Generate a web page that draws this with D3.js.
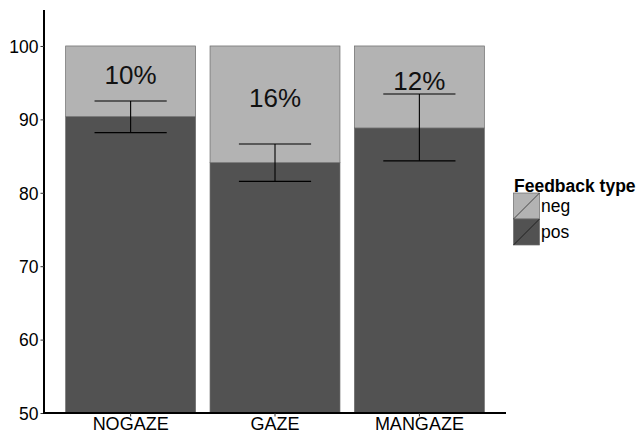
<!DOCTYPE html>
<html><head><meta charset="utf-8">
<script src="https://cdn.jsdelivr.net/npm/d3@7"></script>
<style>body{margin:0;background:#fff}svg{display:block}text{font-family:"Liberation Sans",Arial,sans-serif}</style>
</head><body><svg id="c" width="639" height="433"></svg>
<script>
const categories = ["NOGAZE", "GAZE", "MANGAZE"];
const posValues = [90.37, 84.1, 88.83];
const negValues = [9.63, 15.9, 11.17];
const errLow = [88.2, 81.55, 84.35];
const errHigh = [92.5, 86.65, 93.45];
const pctLabels = ["10%", "16%", "12%"];
const yTicks = [50, 60, 70, 80, 90, 100];
const legendLabels = ["neg", "pos"];
const colors = {neg: "#b3b3b3", pos: "#525252"};

const svg = d3.select("#c");
const mLeft = 44, mRight = 506, mTop = 10, mBottom = 413;
const x = d3.scaleBand().domain(categories).range([mLeft, mRight]).paddingInner(0.1).paddingOuter(0.15);
const y = d3.scaleLinear().domain([50, 104.9]).range([mBottom, mTop]);

// bars
const g = svg.append("g");
categories.forEach((c, i) => {
  const x0 = x(c), w = x.bandwidth();
  g.append("rect").attr("x", x0).attr("width", w)
    .attr("y", y(posValues[i])).attr("height", y(50) - y(posValues[i]))
    .attr("fill", colors.pos).attr("stroke", "#6a6a6a").attr("stroke-width", 0.7);
  g.append("rect").attr("x", x0).attr("width", w)
    .attr("y", y(posValues[i] + negValues[i])).attr("height", y(posValues[i]) - y(posValues[i] + negValues[i]))
    .attr("fill", colors.neg).attr("stroke", "#6a6a6a").attr("stroke-width", 0.7);
  const cx = x0 + w / 2, ew = x.step() * 0.25;
  g.append("line").attr("x1", cx).attr("x2", cx).attr("y1", y(errLow[i])).attr("y2", y(errHigh[i])).attr("stroke", "#000").attr("stroke-width", 1.1);
  [errLow[i], errHigh[i]].forEach(v => g.append("line").attr("x1", cx - ew).attr("x2", cx + ew).attr("y1", y(v)).attr("y2", y(v)).attr("stroke", "#000").attr("stroke-width", 1.1));
  const mid = posValues[i] + negValues[i] / 2;
  g.append("text").attr("x", cx).attr("y", y(mid) + 3).attr("text-anchor", "middle")
    .attr("font-size", 26).attr("fill", "#111").text(pctLabels[i]);
});

// axes
const ya = svg.append("g").attr("transform", `translate(${mLeft},0)`)
  .call(d3.axisLeft(y).tickValues(yTicks).tickSize(3.5).tickPadding(2).tickSizeOuter(0));
ya.select(".domain").attr("stroke", "#000").attr("stroke-width", 2).attr("d", `M0,${mTop}V${mBottom + 1}`);
ya.selectAll(".tick line").attr("stroke", "#333").attr("stroke-width", 1);
ya.selectAll(".tick text").attr("font-size", 17.5).attr("fill", "#000").attr("font-family", '"Liberation Sans",Arial,sans-serif').attr("dy", "0.36em");

const xa = svg.append("g").attr("transform", `translate(0,${mBottom})`)
  .call(d3.axisBottom(x).tickSize(3.5).tickPadding(1).tickSizeOuter(0));
xa.select(".domain").attr("stroke", "#000").attr("stroke-width", 2).attr("d", `M${mLeft - 1},0H${mRight}`);
xa.selectAll(".tick line").attr("stroke", "#333").attr("stroke-width", 1);
xa.selectAll(".tick text").attr("font-size", 18).attr("fill", "#000").attr("font-family", '"Liberation Sans",Arial,sans-serif').attr("dy", "0.71em");

// legend
const lg = svg.append("g");
lg.append("text").attr("x", 514).attr("y", 191.5).attr("font-size", 17.5).attr("font-weight", "bold").attr("fill", "#000").text("Feedback type");
legendLabels.forEach((l, i) => {
  const ky = 193 + i * 26;
  lg.append("rect").attr("x", 513.5).attr("y", ky).attr("width", 26).attr("height", 26)
    .attr("fill", colors[l]).attr("stroke", "#6a6a6a").attr("stroke-width", 0.7);
  lg.append("line").attr("x1", 513.5).attr("y1", ky + 26).attr("x2", 539.5).attr("y2", ky).attr("stroke", "#000").attr("stroke-width", 0.6);
  lg.append("text").attr("x", 541).attr("y", ky + 13).attr("dy", "0.35em").attr("font-size", 17.5).attr("fill", "#000").text(l);
});
</script></body></html>
